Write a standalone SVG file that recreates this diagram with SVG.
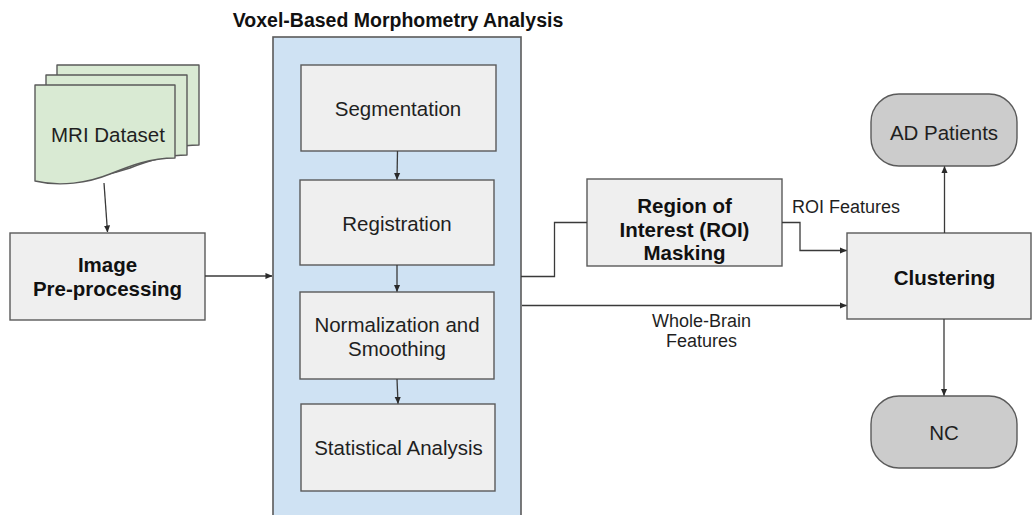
<svg xmlns="http://www.w3.org/2000/svg" width="1032" height="515" viewBox="0 0 1032 515">
  <defs>
    <style>
      .t { font-family: "Liberation Sans", Arial, sans-serif; font-size: 20.5px; fill: #1f1f1f; text-anchor: middle; }
      .b { font-weight: bold; fill: #111; }
      .lbl { font-family: "Liberation Sans", Arial, sans-serif; font-size: 18px; fill: #1f1f1f; }
      .box { fill: #efefef; stroke: #5a5a5a; stroke-width: 1.4; }
      .doc { fill: #d9ead3; stroke: #5a5a5a; stroke-width: 1.4; stroke-linejoin: round; }
      .term { fill: #cccccc; stroke: #5a5a5a; stroke-width: 1.4; }
      .con { fill: none; stroke: #3a3a3a; stroke-width: 1.3; }
    </style>
    <marker id="arr" viewBox="0 0 8 8" refX="7.5" refY="4" markerWidth="7" markerHeight="7" markerUnits="userSpaceOnUse" orient="auto">
      <path d="M0,0.5 L8,4 L0,7.5 Z" fill="#2a2a2a"/>
    </marker>
  </defs>
  <rect width="1032" height="515" fill="#ffffff"/>

  <g id="vbm">
    <rect x="273" y="37" width="248" height="484" fill="#cfe2f3" stroke="#5a5a5a" stroke-width="1.6"/>
    <text class="t b" x="398" y="27" style="font-size:19.5px">Voxel-Based Morphometry Analysis</text>
  </g>

  <g id="mri-dataset">
    <path class="doc" d="M57,65 H199 V145 C180,145 160,150 140,158 C110,168 80,170 57,164 Z"/>
    <path class="doc" d="M46,75 H187 V155 C170,155 150,160 130,168 C100,178 70,180 46,174 Z"/>
    <path class="doc" d="M35,85 H175 V158 C150,158 130,166 110,174 C88,183 60,187 35,181 Z"/>
    <text class="t" x="108" y="141.5">MRI Dataset</text>
  </g>

  <g id="image-preprocessing">
    <rect class="box" x="10" y="233" width="195" height="87"/>
    <text class="t b" x="107.5" y="272">Image</text>
    <text class="t b" x="107.5" y="296">Pre-processing</text>
  </g>

  <g id="segmentation">
    <rect class="box" x="301" y="65" width="195" height="86"/>
    <text class="t" x="398" y="115.5">Segmentation</text>
  </g>

  <g id="registration">
    <rect class="box" x="300" y="180" width="194" height="85"/>
    <text class="t" x="397" y="231">Registration</text>
  </g>

  <g id="normalization">
    <rect class="box" x="300" y="292" width="194" height="87"/>
    <text class="t" x="397" y="331.5">Normalization and</text>
    <text class="t" x="397" y="356">Smoothing</text>
  </g>

  <g id="statistical-analysis">
    <rect class="box" x="301" y="404" width="194" height="87"/>
    <text class="t" x="398.5" y="455">Statistical Analysis</text>
  </g>

  <g id="roi-masking">
    <rect class="box" x="587" y="179" width="195" height="87"/>
    <text class="t b" x="684.5" y="212.5">Region of</text>
    <text class="t b" x="684.5" y="236.5">Interest (ROI)</text>
    <text class="t b" x="684.5" y="260">Masking</text>
  </g>

  <g id="clustering">
    <rect class="box" x="847" y="233" width="184" height="86"/>
    <text class="t b" x="944.5" y="285">Clustering</text>
  </g>

  <g id="ad-patients">
    <rect class="term" x="871" y="94" width="146" height="72" rx="28" ry="28"/>
    <text class="t" x="944" y="140">AD Patients</text>
  </g>

  <g id="nc">
    <rect class="term" x="871" y="396" width="146" height="72" rx="28" ry="28"/>
    <text class="t" x="944" y="440">NC</text>
  </g>

  <g id="connectors">
    <path class="con" d="M104,183 L107.5,232" marker-end="url(#arr)"/>
    <path class="con" d="M205,276 H272" marker-end="url(#arr)"/>
    <path class="con" d="M397.5,151 L397,179.5" marker-end="url(#arr)"/>
    <path class="con" d="M397,265 V291.5" marker-end="url(#arr)"/>
    <path class="con" d="M397,379 L398,403.5" marker-end="url(#arr)"/>
    <path class="con" d="M521,276.5 H554.5 V222.5 H587"/>
    <path class="con" d="M782,222.5 H800 V250.5 H846.5" marker-end="url(#arr)"/>
    <path class="con" d="M522,305.5 H846.5" marker-end="url(#arr)"/>
    <path class="con" d="M944.5,233 V166.5" marker-end="url(#arr)"/>
    <path class="con" d="M944,319 V395.5" marker-end="url(#arr)"/>
    <text class="lbl" x="792" y="213">ROI Features</text>
    <text class="lbl" x="701.5" y="326.5" text-anchor="middle">Whole-Brain</text>
    <text class="lbl" x="701.5" y="346.5" text-anchor="middle">Features</text>
  </g>
</svg>
